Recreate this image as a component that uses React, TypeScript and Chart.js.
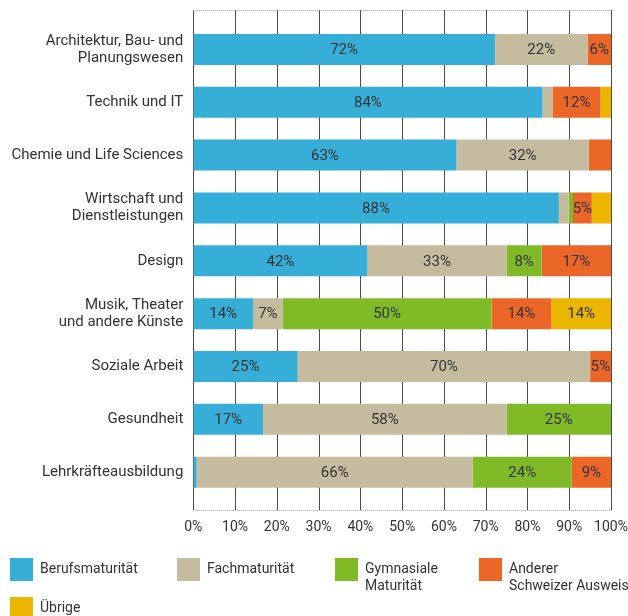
import React, { useEffect, useRef } from "react";
import { Chart, registerables } from "chart.js";
Chart.register(...registerables);

const FONT = "Roboto";

const categories: (string | string[])[] = [
  ["Architektur, Bau- und", "Planungswesen"],
  "Technik und IT",
  "Chemie und Life Sciences",
  ["Wirtschaft und", "Dienstleistungen"],
  "Design",
  ["Musik, Theater", "und andere Künste"],
  "Soziale Arbeit",
  "Gesundheit",
  "Lehrkräfteausbildung",
];

const seriesNames = [
  "Berufsmaturität",
  "Fachmaturität",
  "Gymnasiale Maturität",
  "Anderer Schweizer Ausweis",
  "Übrige",
];
const legendLines = [
  ["Berufsmaturität"],
  ["Fachmaturität"],
  ["Gymnasiale", "Maturität"],
  ["Anderer", "Schweizer Ausweis"],
  ["Übrige"],
];
const seriesColors = ["#36AED8", "#C5BC9F", "#80BA27", "#EB6727", "#EBB500"];

const berufsmaturitaet = [72.2, 83.6, 63.0, 87.5, 41.7, 14.3, 25.0, 16.7, 0.8];
const fachmaturitaet = [22.2, 2.4, 31.7, 2.4, 33.3, 7.1, 70.0, 58.3, 66.1];
const gymnasialeMaturitaet = [0, 0, 0, 1.0, 8.4, 50.0, 0, 25.0, 23.7];
const andererAusweis = [5.6, 11.5, 5.3, 4.5, 16.6, 14.3, 5.0, 0, 9.4];
const uebrige = [0, 2.5, 0, 4.6, 0, 14.3, 0, 0, 0];

const seriesValues = [
  berufsmaturitaet,
  fachmaturitaet,
  gymnasialeMaturitaet,
  andererAusweis,
  uebrige,
];

const xTicks = [0, 10, 20, 30, 40, 50, 60, 70, 80, 90, 100];
const labelMin = 4.5;
// [series, category] segments printed without a value label
const unlabeledSegments = [
  [3, 2],
  [4, 3],
];

const gridPlugin = {
  id: "gridExt",
  beforeDatasetsDraw(chart: any) {
    const ctx = chart.ctx;
    const x = chart.scales.x;
    const top = 10;
    const bottom = 510;
    ctx.save();
    ctx.lineWidth = 1;
    ctx.strokeStyle = "#4a4a4a";
    xTicks.forEach((t) => {
      const px = Math.round(x.getPixelForValue(t)) + 0.5;
      ctx.beginPath();
      ctx.moveTo(px, top);
      ctx.lineTo(px, bottom);
      ctx.stroke();
    });
    ctx.strokeStyle = "#999";
    ctx.setLineDash([1, 1]);
    const l = x.getPixelForValue(0);
    const r = x.getPixelForValue(100);
    [top + 0.5, bottom + 0.5].forEach((y) => {
      ctx.beginPath();
      ctx.moveTo(l, y);
      ctx.lineTo(r, y);
      ctx.stroke();
    });
    ctx.restore();
  },
  afterDatasetsDraw(chart: any) {
    const ctx = chart.ctx;
    ctx.save();
    ctx.font = `15px ${FONT}`;
    ctx.fillStyle = "#333";
    ctx.textAlign = "center";
    ctx.textBaseline = "middle";
    chart.data.datasets.forEach((ds: any, di: number) => {
      const meta = chart.getDatasetMeta(di);
      meta.data.forEach((el: any, ci: number) => {
        const v = ds.data[ci];
        if (v < labelMin) return;
        if (unlabeledSegments.some(([s, c]) => s === di && c === ci)) return;
        ctx.fillText(`${Math.round(v)}%`, (el.x + el.base) / 2, el.y + 1);
      });
    });
    ctx.restore();
  },
  afterDraw(chart: any) {
    const ctx = chart.ctx;
    const cols = [10, 177, 335, 479];
    ctx.save();
    ctx.font = `14px ${FONT}`;
    ctx.textBaseline = "middle";
    ctx.textAlign = "left";
    chart.data.datasets.forEach((ds: any, i: number) => {
      const col = i % 4;
      const row = Math.floor(i / 4);
      const sx = cols[col];
      const sy = 558 + row * 39;
      ctx.fillStyle = ds.backgroundColor;
      ctx.fillRect(sx, sy, 23, 23);
      ctx.fillStyle = "#333";
      legendLines[i].forEach((line, li) => {
        ctx.fillText(line, sx + 30, sy + 11.5 + li * 16.5);
      });
    });
    ctx.restore();
  },
};

export default function App() {
  const ref = useRef<HTMLCanvasElement>(null);
  useEffect(() => {
    if (!ref.current) return;
    const chart = new Chart(ref.current, {
      type: "bar",
      data: {
        labels: categories as any,
        datasets: seriesNames.map((name, i) => ({
          label: name,
          data: seriesValues[i],
          backgroundColor: seriesColors[i],
          borderWidth: 0,
          categoryPercentage: 1,
          barPercentage: 0.587,
        })),
      },
      options: {
        indexAxis: "y",
        animation: false,
        responsive: false,
        devicePixelRatio: 1,
        layout: { padding: { top: 23, left: 0, right: 17, bottom: 0 } },
        plugins: {
          legend: { display: false },
          tooltip: { enabled: false },
        },
        scales: {
          x: {
            stacked: true,
            min: 0,
            max: 100,
            afterFit: (s: any) => {
              s.height = 117.4;
              s.paddingLeft = 0;
              s.paddingRight = 0;
            },
            afterBuildTicks: (s: any) => {
              s.ticks = xTicks.map((v) => ({ value: v }));
            },
            grid: { display: false, drawTicks: false },
            border: { display: false },
            ticks: {
              padding: 20,
              color: "#333",
              maxRotation: 0,
              font: { family: FONT, size: 14 },
              callback: (v: any) => `${v}%`,
            },
          },
          y: {
            stacked: true,
            afterFit: (s: any) => {
              s.width = 193.3;
              s.paddingTop = 0;
              s.paddingBottom = 0;
            },
            grid: { display: false, drawTicks: false },
            border: { display: false },
            ticks: {
              padding: 10,
              color: "#333",
              font: { family: FONT, size: 15, lineHeight: 1.13 },
            },
          },
        },
      },
      plugins: [gridPlugin],
    });
    return () => chart.destroy();
  }, []);
  return (
    <div style={{ position: "fixed", left: 0, top: 0, width: 628, height: 616 }}>
      <canvas ref={ref} width={628} height={616} />
    </div>
  );
}
